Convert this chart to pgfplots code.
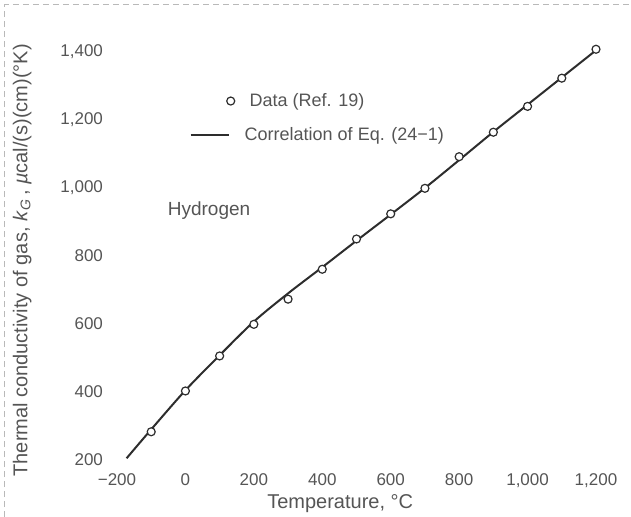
\documentclass[border=0pt]{standalone}
\usepackage{fontspec}
\setmainfont{Liberation Sans}
\usepackage{pgfplots}
\pgfplotsset{compat=1.18}
\definecolor{ink}{RGB}{85,85,85}
\definecolor{curve}{RGB}{45,45,45}
\pgfplotsset{
  lineimg/.style={legend image code/.code={\path[draw=none,fill=none] (0pt,0pt) -- (25pt,0pt);
    \draw[##1] (0pt,0pt) -- (19pt,0pt);}},
  markimg/.style={legend image code/.code={\path[draw=none,fill=none] (0pt,0pt) -- (25pt,0pt);
    \draw[##1] plot coordinates {(20pt,0pt)};}},
}

\begin{document}
\begin{tikzpicture}
\begin{axis}[
  scale only axis,
  width=239.5pt, height=210.8pt,
  xmin=-200, xmax=1200, ymin=180, ymax=1420,
  axis line style={draw=none},
  major tick length=0pt,
  xtick={-200,0,200,400,600,800,1000,1200},
  ytick={200,400,600,800,1000,1200,1400},
  xticklabels={−200,0,200,400,600,800,{1,000},{1,200}},
  yticklabels={200,400,600,800,{1,000},{1,200},{1,400}},
  tick label style={font=\fontsize{8.5}{10}\selectfont, text=ink},
  yticklabel style={xshift=-3.5pt},
  xlabel={Temperature, °C},
  ylabel={Thermal conductivity of gas, \textit{k}\textsubscript{\textit{G}}\,, \textit{µ}cal/(s)(cm)(°K)},
  xlabel style={at={(axis description cs:0.466,-0.088)}, anchor=center,
    font=\fontsize{10}{12}\selectfont, text=ink},
  ylabel style={at={(axis description cs:-0.198,0.49)}, anchor=center,
    font=\fontsize{10}{12}\selectfont, text=ink},
  legend style={draw=none, fill=none, inner sep=0pt,
    at={(axis description cs:0.151,0.897)}, anchor=north west,
    font=\fontsize{9}{10.5}\selectfont, text=ink, row sep=5pt},
  legend cell align=left,
  reverse legend,
]
% correlation of Eq. (24-1)
\addplot[curve, line width=1pt, smooth, lineimg]
  coordinates {
    (-172,205) (-100,290) (0,405) (100,508) (200,607) (300,690)
    (400,767) (500,845) (600,922) (700,1000) (800,1082) (900,1165)
    (1000,1245) (1100,1325) (1200,1405)
  };
\addlegendentry{Correlation of Eq. (24−1)}
% data, Ref. 19
\addplot[only marks, mark=*, mark size=2pt,
  mark options={fill=white, draw=curve, line width=0.6pt}, markimg]
  coordinates {
    (-100,283) (0,403) (100,506) (200,599) (300,673) (400,761)
    (500,850) (600,924) (700,999) (800,1092) (900,1164) (1000,1240)
    (1100,1323) (1200,1408)
  };
\addlegendentry{\hspace{2.5pt}Data (Ref. 19)}
\node[font=\fontsize{9.5}{11}\selectfont, text=ink] at (axis cs:69,935) {Hydrogen};
\end{axis}
\draw[gray!55, densely dashed, line width=0.5pt]
  (-56pt,-25.1pt) -- (-56pt,230.9pt) -- (257pt,230.9pt);
\pgfresetboundingbox
\path[use as bounding box] (-58.5pt,-25.1pt) rectangle (257pt,233.4pt);
\end{tikzpicture}
\end{document}
